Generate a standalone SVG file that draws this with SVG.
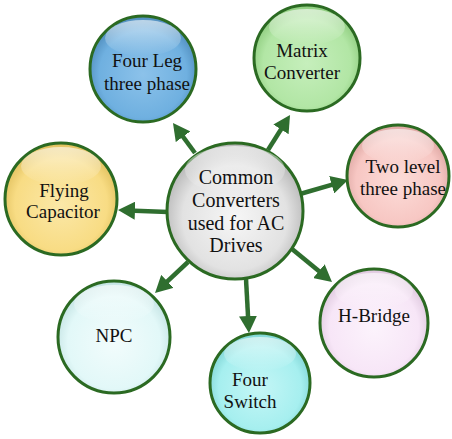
<svg xmlns="http://www.w3.org/2000/svg" width="452" height="439" viewBox="0 0 452 439">
<style>
.node{stroke:#2b6a22;stroke-width:3}
.t{font-family:"Liberation Serif","Times New Roman",serif;font-size:19px;fill:#111;text-anchor:middle}
.tc{font-size:20px}
.conn{stroke:#2f6e2f;stroke-width:4.5;fill:none;marker-end:url(#ah)}
.hl{fill:url(#gloss)}
</style>
<defs>
<marker id="ah" markerUnits="userSpaceOnUse" markerWidth="18" markerHeight="18" refX="7" refY="9" orient="auto">
<path d="M0,0 L17,9 L0,18 Z" fill="#2f6e2f"/>
</marker>
<linearGradient id="gloss" x1="0" y1="0" x2="0" y2="1">
<stop offset="0" stop-color="#fff" stop-opacity="0.6"/>
<stop offset="1" stop-color="#fff" stop-opacity="0"/>
</linearGradient>
<radialGradient id="gC" cx="50%" cy="55%" r="55%"><stop offset="0" stop-color="#f6f6f6"/><stop offset="0.7" stop-color="#e2e2e2"/><stop offset="1" stop-color="#b4b4b4"/></radialGradient>
<radialGradient id="g1" cx="50%" cy="55%" r="55%"><stop offset="0" stop-color="#8cc2ea"/><stop offset="0.75" stop-color="#6fb0e0"/><stop offset="1" stop-color="#4f8cbc"/></radialGradient>
<radialGradient id="g2" cx="50%" cy="55%" r="55%"><stop offset="0" stop-color="#c6efbc"/><stop offset="0.75" stop-color="#b2e6a5"/><stop offset="1" stop-color="#8ccb7c"/></radialGradient>
<radialGradient id="g3" cx="50%" cy="55%" r="55%"><stop offset="0" stop-color="#fcdcd8"/><stop offset="0.75" stop-color="#f7c7c3"/><stop offset="1" stop-color="#dca5a1"/></radialGradient>
<radialGradient id="g4" cx="50%" cy="55%" r="55%"><stop offset="0" stop-color="#fbe8a8"/><stop offset="0.75" stop-color="#f8dc84"/><stop offset="1" stop-color="#e0bf5c"/></radialGradient>
<radialGradient id="g5" cx="50%" cy="55%" r="55%"><stop offset="0" stop-color="#fcf3fc"/><stop offset="0.75" stop-color="#f7e6f7"/><stop offset="1" stop-color="#dcc6dc"/></radialGradient>
<radialGradient id="g6" cx="50%" cy="55%" r="55%"><stop offset="0" stop-color="#f2fcfc"/><stop offset="0.75" stop-color="#e2f8f8"/><stop offset="1" stop-color="#c2e2e2"/></radialGradient>
<radialGradient id="g7" cx="50%" cy="55%" r="55%"><stop offset="0" stop-color="#c4f6f6"/><stop offset="0.75" stop-color="#a6efef"/><stop offset="1" stop-color="#7ed4d4"/></radialGradient>
</defs>

<g id="connectors">
<path class="conn" d="M195,153 L178.9,131.1"/>
<path class="conn" d="M268,150 L284.7,123.5"/>
<path class="conn" d="M300,194 L338.4,182.8"/>
<path class="conn" d="M292,249 L324.3,275.6"/>
<path class="conn" d="M246,279 L248.4,323"/>
<path class="conn" d="M188,262 L162.3,286.2"/>
<path class="conn" d="M168,212 L128,210.4"/>
</g>

<g id="center">
<circle class="node" cx="235" cy="211" r="68" fill="url(#gC)"/>
<ellipse class="hl" cx="235" cy="170" rx="50" ry="24"/>
<text class="t tc" x="236" y="184">Common</text>
<text class="t tc" x="236" y="207">Converters</text>
<text class="t tc" x="236" y="230">used for AC</text>
<text class="t tc" x="236" y="252">Drives</text>
</g>

<g id="four-leg">
<circle class="node" cx="143" cy="69" r="53" fill="url(#g1)"/>
<ellipse class="hl" cx="143" cy="38" rx="38" ry="18"/>
<text class="t" x="147" y="67">Four Leg</text>
<text class="t" x="147" y="90">three phase</text>
</g>

<g id="matrix">
<circle class="node" cx="307" cy="58" r="53" fill="url(#g2)"/>
<ellipse class="hl" cx="307" cy="27" rx="38" ry="18"/>
<text class="t" x="302" y="57">Matrix</text>
<text class="t" x="302" y="79">Converter</text>
</g>

<g id="two-level">
<circle class="node" cx="398" cy="176" r="51" fill="url(#g3)"/>
<ellipse class="hl" cx="398" cy="146" rx="36" ry="17"/>
<text class="t" x="403" y="173">Two level</text>
<text class="t" x="403" y="195">three phase</text>
</g>

<g id="flying">
<circle class="node" cx="61" cy="199" r="56" fill="url(#g4)"/>
<ellipse class="hl" cx="61" cy="166" rx="40" ry="19"/>
<text class="t" x="64" y="197">Flying</text>
<text class="t" x="63" y="218">Capacitor</text>
</g>

<g id="h-bridge">
<circle class="node" cx="374" cy="323" r="54" fill="url(#g5)"/>
<ellipse class="hl" cx="374" cy="291" rx="39" ry="18"/>
<text class="t" x="374" y="322">H-Bridge</text>
</g>

<g id="npc">
<circle class="node" cx="114" cy="337" r="56" fill="url(#g6)"/>
<ellipse class="hl" cx="114" cy="304" rx="40" ry="19"/>
<text class="t" x="114" y="342">NPC</text>
</g>

<g id="four-switch">
<circle class="node" cx="260" cy="383" r="50" fill="url(#g7)"/>
<ellipse class="hl" cx="260" cy="354" rx="36" ry="17"/>
<text class="t" x="250" y="386">Four</text>
<text class="t" x="250" y="408">Switch</text>
</g>
</svg>
